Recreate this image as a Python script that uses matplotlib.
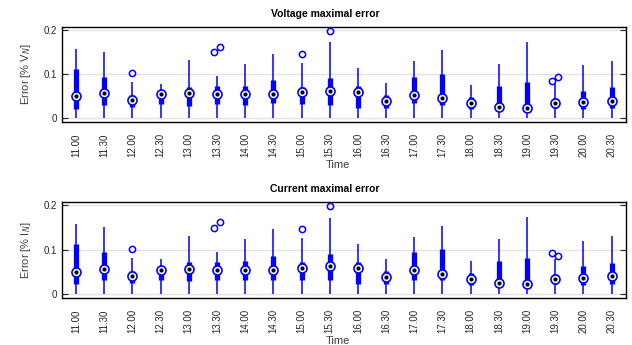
import matplotlib.pyplot as plt

times = ['11.00', '11.30', '12.00', '12.30', '13.00', '13.30', '14.00', '14.30',
         '15.00', '15.30', '16.00', '16.30', '17.00', '17.30', '18.00', '18.30',
         '19.00', '19.30', '20.00', '20.30']

# voltage: whisker top, q3, median, q1 (whisker bottom is 0 everywhere)
v_whi = [0.157, 0.150, 0.081, 0.078, 0.132, 0.096, 0.123, 0.147, 0.125, 0.173,
         0.113, 0.079, 0.130, 0.154, 0.075, 0.124, 0.173, 0.078, 0.120, 0.130]
v_q3 = [0.112, 0.094, 0.051, 0.062, 0.070, 0.072, 0.073, 0.086, 0.070, 0.090,
        0.073, 0.052, 0.094, 0.101, 0.047, 0.073, 0.081, 0.045, 0.062, 0.070]
v_med = [0.049, 0.057, 0.040, 0.054, 0.056, 0.054, 0.054, 0.054, 0.059, 0.062,
         0.059, 0.038, 0.053, 0.046, 0.033, 0.024, 0.023, 0.033, 0.035, 0.038]
v_q1 = [0.021, 0.029, 0.024, 0.032, 0.027, 0.032, 0.030, 0.033, 0.032, 0.030,
        0.022, 0.022, 0.033, 0.030, 0.020, 0.018, 0.018, 0.022, 0.020, 0.022]
v_out = {2: [0.102], 5: [0.150, 0.163], 8: [0.146], 9: [0.199], 17: [0.085, 0.094]}

# current
c_whi = [0.158, 0.150, 0.081, 0.078, 0.131, 0.095, 0.123, 0.146, 0.126, 0.171,
         0.113, 0.079, 0.129, 0.154, 0.075, 0.124, 0.173, 0.078, 0.120, 0.131]
c_q3 = [0.113, 0.095, 0.051, 0.062, 0.071, 0.072, 0.074, 0.085, 0.071, 0.089,
        0.072, 0.051, 0.094, 0.101, 0.047, 0.074, 0.081, 0.045, 0.062, 0.070]
c_med = [0.048, 0.056, 0.041, 0.054, 0.056, 0.054, 0.054, 0.054, 0.058, 0.062,
         0.059, 0.038, 0.053, 0.045, 0.034, 0.024, 0.023, 0.033, 0.035, 0.039]
c_q1 = [0.021, 0.030, 0.025, 0.032, 0.029, 0.032, 0.032, 0.032, 0.032, 0.030,
        0.022, 0.023, 0.032, 0.030, 0.020, 0.019, 0.018, 0.022, 0.020, 0.023]
c_out = {2: [0.102], 5: [0.149, 0.162], 8: [0.146], 9: [0.199], 17: [0.093, 0.086]}

plt.rcParams['font.family'] = ['Liberation Sans', 'DejaVu Sans']
blue = '#0000ff'


def compact_box(ax, whi, q3, med, q1, outliers, title, ylabel):
    x = list(range(1, len(times) + 1))
    ax.set_axisbelow(True)
    ax.grid(axis='y', color='#e3e3e3', lw=1)
    ax.vlines(x, [0] * len(x), whi, color=blue, lw=1.1, zorder=2)
    ax.vlines(x, q1, q3, color=blue, lw=3.8, zorder=3)
    ax.plot(x, med, 'o', ms=6.5, mfc='white', mec=blue, mew=1.2, zorder=4)
    ax.plot(x, med, 'o', ms=2.0, color='black', zorder=5)
    for i, vals in outliers.items():
        jit = [0.0] if len(vals) == 1 else [-0.1, 0.1]
        ax.plot([i + 1 + j for j in jit], vals, 'o', ms=4.5, mfc='none',
                mec=blue, mew=1.1, zorder=4)
    ax.set_xlim(0.5, len(times) + 0.5)
    ax.set_ylim(-0.01, 0.208)
    ax.set_yticks([0, 0.1, 0.2])
    ax.set_yticklabels(['0', '0.1', '0.2'])
    ax.set_xticks(x)
    ax.set_xticklabels(times, rotation=90)
    ax.tick_params(axis='x', length=0, pad=8, labelsize=7, colors='#262626')
    ax.tick_params(axis='y', direction='in', right=True, length=4,
                   labelsize=7, colors='#262626')
    for s in ax.spines.values():
        s.set_linewidth(1.0)
    ax.set_title(title, fontsize=7.5, fontweight='bold', pad=7, x=0.467)
    ax.set_xlabel('Time', fontsize=8, color='#404040', labelpad=2, x=0.49)
    ax.set_ylabel(ylabel, fontsize=8, color='#404040', labelpad=8)


fig = plt.figure(figsize=(6.32, 3.45), dpi=100)
ax1 = fig.add_axes([0.098, 0.646, 0.892, 0.276])
ax2 = fig.add_axes([0.098, 0.136, 0.892, 0.279])
compact_box(ax1, v_whi, v_q3, v_med, v_q1, v_out, 'Voltage maximal error',
            'Error [% V$_N$]')
compact_box(ax2, c_whi, c_q3, c_med, c_q1, c_out, 'Current maximal error',
            'Error [% I$_N$]')
fig.savefig('out.png', dpi=100)
